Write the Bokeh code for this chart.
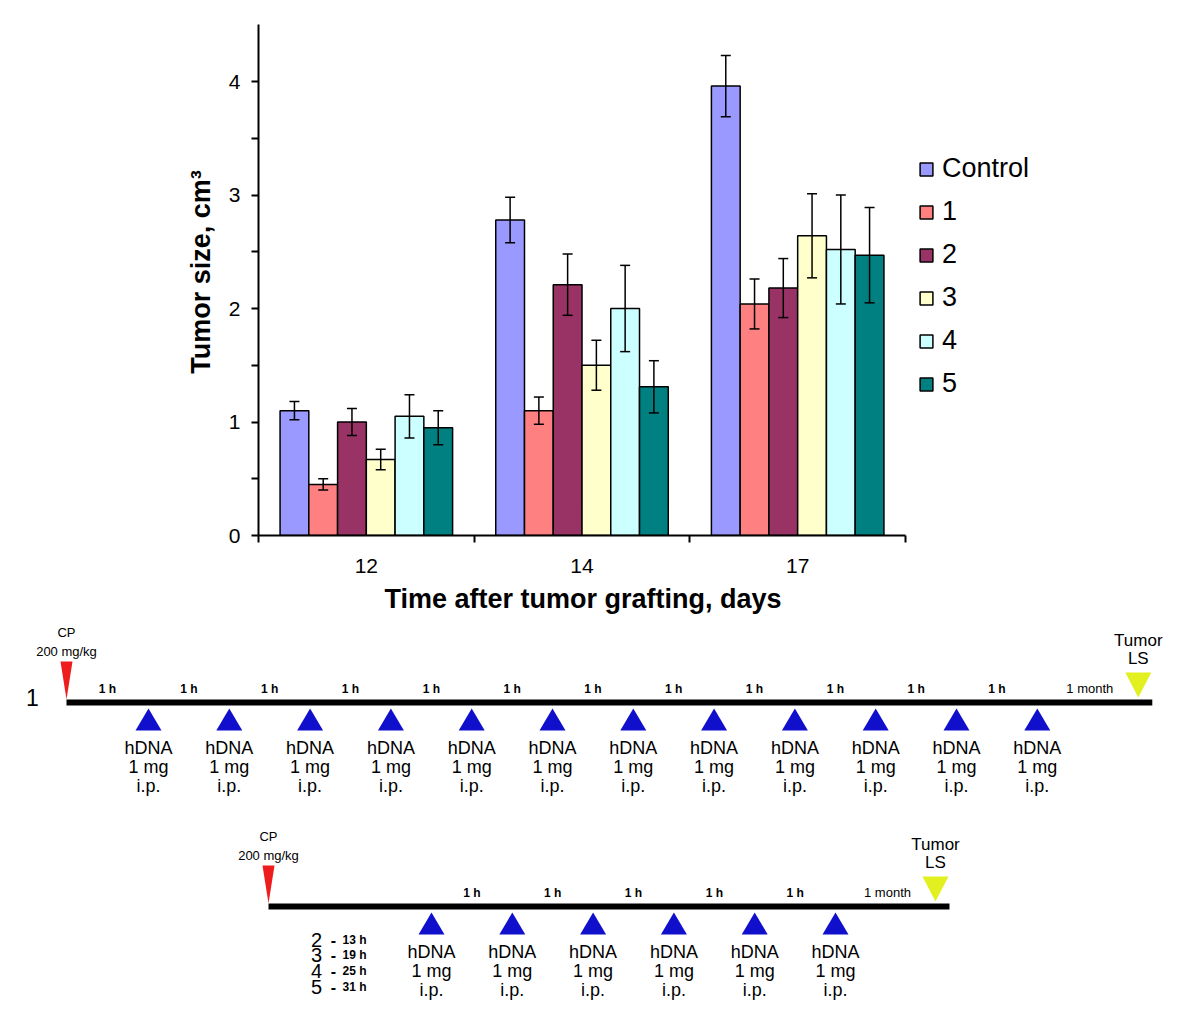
from bokeh.plotting import figure
from bokeh.models import (ColumnDataSource, Range1d, FixedTicker, Whisker, TeeHead,
                          Legend, LegendItem, Title)
from bokeh.core.properties import value
from bokeh.embed import file_html
from bokeh.resources import INLINE

# ---------------- data ----------------
days = ["12", "14", "17"]
series = ["Control", "1", "2", "3", "4", "5"]
colors = ["#9999FF", "#FF8080", "#993366", "#FFFFCC", "#CCFFFF", "#008080"]

control = [1.10, 2.78, 3.96]
group1 = [0.45, 1.10, 2.04]
group2 = [1.00, 2.21, 2.18]
group3 = [0.67, 1.50, 2.64]
group4 = [1.05, 2.00, 2.52]
group5 = [0.95, 1.31, 2.47]

control_err = [0.08, 0.20, 0.27]
group1_err = [0.05, 0.12, 0.22]
group2_err = [0.12, 0.27, 0.26]
group3_err = [0.09, 0.22, 0.37]
group4_err = [0.19, 0.38, 0.48]
group5_err = [0.15, 0.23, 0.42]

y_major_ticks = [0, 1, 2, 3, 4]
y_minor_ticks = [0.5, 1.5, 2.5, 3.5]

# schedule 1: CP, 12 hDNA injections, tumor LS
timeline1_intervals = ["1 h", "1 h", "1 h", "1 h", "1 h", "1 h", "1 h", "1 h",
                       "1 h", "1 h", "1 h", "1 h", "1 month"]
# schedule 2-5: CP, delay (group dependent), 6 injections, tumor LS
timeline2_intervals = ["", "1 h", "1 h", "1 h", "1 h", "1 h", "1 month"]
timeline2_groups = ["2", "3", "4", "5"]
timeline2_delays = ["13 h", "19 h", "25 h", "31 h"]
dose_lines = ["hDNA", "1 mg", "i.p."]
cp_lines = ["CP", "200 mg/kg"]
end_lines = ["Tumor", "LS"]

FONT_NAME = "Liberation Sans"
FONT = value(FONT_NAME)

# ---------------- bar chart ----------------
PX_X = 215.67   # px per category
PX_Y = 113.5    # px per unit
W, H1 = 1200, 623
BORDER_L, BORDER_R, BORDER_T, BORDER_B = 258, 0, 8, 88
FRAME_W = W - BORDER_L - BORDER_R
FRAME_H = H1 - BORDER_T - BORDER_B

p = figure(width=W, height=H1, output_backend="svg", toolbar_location=None,
           x_range=Range1d(0, FRAME_W / PX_X), y_range=Range1d(0, FRAME_H / PX_Y),
           min_border_left=BORDER_L, min_border_right=BORDER_R,
           min_border_top=BORDER_T, min_border_bottom=BORDER_B)
p.outline_line_color = None
p.grid.visible = False
p.background_fill_color = "white"

all_vals = [control, group1, group2, group3, group4, group5]
all_errs = [control_err, group1_err, group2_err, group3_err, group4_err, group5_err]
bar_w = 0.8 / len(series)
items = []
for j, (name, col, vals, errs) in enumerate(zip(series, colors, all_vals, all_errs)):
    xs = [i + 0.5 + (j - (len(series) - 1) / 2) * bar_w for i in range(len(days))]
    src = ColumnDataSource(dict(x=xs, top=vals,
                                upper=[v + e for v, e in zip(vals, errs)],
                                lower=[v - e for v, e in zip(vals, errs)]))
    r = p.vbar(x="x", top="top", width=bar_w, bottom=0, source=src,
               fill_color=col, line_color="black", line_width=1.5)
    wk = Whisker(source=src, base="x", upper="upper", lower="lower",
                 line_color="black", line_width=1.5, level="annotation",
                 upper_head=TeeHead(size=10, line_width=1.5),
                 lower_head=TeeHead(size=10, line_width=1.5))
    p.add_layout(wk)
    items.append(LegendItem(label=name, renderers=[r]))

legend = Legend(items=items, location=(660, 136), padding=0, margin=0,
                glyph_width=16, glyph_height=16, label_standoff=8,
                label_text_font=FONT_NAME, label_text_font_size="27px",
                label_text_color="black",
                label_height=30, spacing=12,
                border_line_color=None, background_fill_alpha=0)
p.add_layout(legend)

yax = p.yaxis[0]
yax.ticker = FixedTicker(ticks=y_major_ticks, minor_ticks=y_minor_ticks)
yax.bounds = (0, 4.5)
yax.major_tick_out = 7
yax.major_tick_in = 0
yax.minor_tick_out = 7
yax.minor_tick_in = 0
yax.axis_line_width = 2
yax.major_tick_line_width = 2
yax.minor_tick_line_width = 2
yax.major_label_text_font = FONT_NAME
yax.major_label_text_font_size = "21px"
yax.major_label_text_color = "black"
yax.major_label_standoff = 11
yax.axis_label = "Tumor size, cm³"
yax.axis_label_text_font = FONT_NAME
yax.axis_label_text_font_style = "bold"
yax.axis_label_text_font_size = "27px"
yax.axis_label_text_color = "black"
yax.axis_label_standoff = 10

xax = p.xaxis[0]
xax.ticker = FixedTicker(ticks=[i + 0.5 for i in range(len(days))],
                         minor_ticks=list(range(len(days) + 1)))
xax.major_label_overrides = {i + 0.5: d for i, d in enumerate(days)}
xax.bounds = (0, len(days))
xax.major_tick_out = 0
xax.major_tick_in = 0
xax.minor_tick_out = 7
xax.minor_tick_in = 0
xax.axis_line_width = 2
xax.minor_tick_line_width = 2
xax.major_label_text_font = FONT_NAME
xax.major_label_text_font_size = "21px"
xax.major_label_text_color = "black"
xax.major_label_standoff = 16

# x-axis title, centred under the axis (not the whole frame)
x_title = Title(text="Time after tumor grafting, days", align="left", offset=126,
                text_font=FONT_NAME, text_font_size="27px", text_font_style="bold",
                text_color="black", standoff=12)
p.add_layout(x_title, "below")

# ---------------- timelines ----------------
H2 = 395
TOP2 = H1
q = figure(width=W, height=H2, output_backend="svg", toolbar_location=None,
           x_range=Range1d(0, W), y_range=Range1d(TOP2 + H2, TOP2),
           x_axis_location=None, y_axis_location=None,
           min_border_left=0, min_border_right=0, min_border_top=0, min_border_bottom=0)
q.outline_line_color = None
q.grid.visible = False

STEP = 80.8
BLUE = "#1010CC"
RED = "#EE1C1C"
YELLOW = "#E1F01E"


def txt(xs, ys, texts, size, align="center", style="normal"):
    q.text(x=xs, y=ys, text=texts, text_align=align, text_baseline="middle",
           text_font=FONT, text_font_size=size, text_font_style=style,
           text_color="black")


def timeline(x0, y, first_offset, n_inj, end_offset, intervals):
    inj = [x0 + first_offset + k * STEP for k in range(n_inj)]
    x_end = inj[-1] + end_offset
    events = [x0] + inj + [x_end]
    # main line
    q.line([x0, x_end + 14], [y, y], line_color="black", line_width=6)
    # CP (red)
    q.patch([x0 - 6, x0 + 6, x0], [y - 41, y - 41, y - 3], fill_color=RED, line_color=None)
    txt([x0, x0], [y - 70, y - 51], cp_lines, "13px")
    # injections (blue)
    q.patches([[x - 13, x + 13, x] for x in inj], [[y + 28, y + 28, y + 6] for _ in inj],
              fill_color=BLUE, line_color=None)
    for k, line in enumerate(dose_lines):
        txt(inj, [y + 45 + 19 * k] * len(inj), [line] * len(inj), "18px")
    # tumor LS (yellow)
    q.patch([x_end - 13, x_end + 13, x_end], [y - 30, y - 30, y - 5],
            fill_color=YELLOW, line_color=None)
    txt([x_end, x_end], [y - 62, y - 44], end_lines, "17px")
    # interval labels
    mids, labs, mids_m, labs_m = [], [], [], []
    for a, b, lab in zip(events[:-1], events[1:], intervals):
        if lab == "1 h":
            mids.append((a + b) / 2); labs.append(lab)
        elif lab:
            mids_m.append((a + b) / 2 + 2); labs_m.append(lab)
    txt(mids, [y - 14] * len(mids), labs, "12px", style="bold")
    txt(mids_m, [y - 14] * len(mids_m), labs_m, "13px")


timeline(66, 702, 82, 12, 101, timeline1_intervals)
txt([32], [697], ["1"], "23px")

timeline(268, 906, 163, 6, 100, timeline2_intervals)
gy = [939 + 15.7 * k for k in range(len(timeline2_groups))]
txt([316] * 4, gy, timeline2_groups, "20px")
txt([333] * 4, gy, ["-"] * 4, "16px", style="bold")
txt([342] * 4, gy, timeline2_delays, "12px", align="left", style="bold")

open("out.html", "w").write(file_html([p, q], INLINE))
